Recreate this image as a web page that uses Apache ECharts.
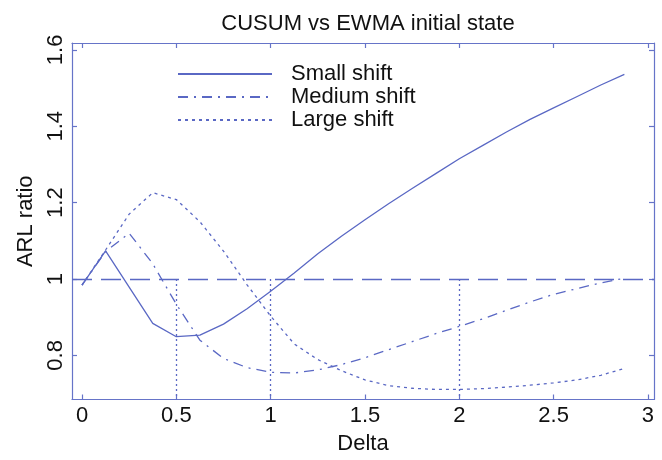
<!DOCTYPE html>
<html>
<head>
<meta charset="utf-8">
<title>CUSUM vs EWMA initial state</title>
<script src="https://cdn.jsdelivr.net/npm/echarts@6/dist/echarts.min.js"></script>
<style>
  html, body { margin: 0; padding: 0; background: #ffffff; }
  #chart { width: 662px; height: 460px; }
</style>
</head>
<body>
<div id="chart"></div>
<script>
// Shift sizes (Delta) at which the ARL ratio was evaluated
const delta = [0, 0.125, 0.25, 0.375, 0.5, 0.625, 0.75, 0.875, 1.0, 1.125, 1.25, 1.375,
               1.5, 1.625, 1.75, 1.875, 2.0, 2.125, 2.25, 2.375, 2.5, 2.625, 2.75, 2.875];

// ARL ratio CUSUM / EWMA for each design
const smallShift = [0.984, 1.074, 0.979, 0.884, 0.849, 0.853, 0.882, 0.922, 0.968, 1.016, 1.066, 1.112,
                    1.155, 1.197, 1.237, 1.276, 1.315, 1.350, 1.385, 1.418, 1.448, 1.478, 1.508, 1.536];
const mediumShift = [0.984, 1.072, 1.120, 1.040, 0.934, 0.840, 0.792, 0.768, 0.756, 0.754, 0.762, 0.776,
                     0.794, 0.815, 0.836, 0.857, 0.876, 0.896, 0.918, 0.940, 0.960, 0.975, 0.990, 1.002];
const largeShift = [0.984, 1.076, 1.170, 1.226, 1.208, 1.150, 1.073, 0.985, 0.903, 0.830, 0.789, 0.760,
                    0.736, 0.721, 0.714, 0.711, 0.711, 0.713, 0.717, 0.722, 0.728, 0.736, 0.748, 0.766];

const seriesNames = ['Small shift', 'Medium shift', 'Large shift'];

// Axis ranges and tick positions
const xRange = [-0.053, 3.032];
const yRange = [0.6846, 1.618];
const xTicks = [0, 0.5, 1, 1.5, 2, 2.5, 3];
const yTicks = [0.8, 1, 1.2, 1.4, 1.6];

// Reference level and the shifts marked with vertical guides
const refLevel = 1;
const guideDeltas = [0.5, 1, 2];

const lineColor = '#5a68c4';
const axisColor = '#6674c8';
const textColor = '#111111';
const fontFamily = 'Arial, "Liberation Sans", Helvetica, sans-serif';

function pairs(ys) { return delta.map((d, i) => [d, ys[i]]); }

function xAxisDef(pos) {
  return {
    type: 'value', position: pos, min: xRange[0], max: xRange[1],
    axisLine: { show: true, onZero: false, lineStyle: { color: axisColor, width: 1.2 } },
    axisTick: { show: true, inside: true, length: 5, customValues: xTicks,
                lineStyle: { color: axisColor, width: 1.2 } },
    axisLabel: pos === 'bottom'
      ? { show: true, customValues: xTicks, color: textColor, fontSize: 22, fontFamily: fontFamily, margin: 5 }
      : { show: false },
    splitLine: { show: false },
    name: pos === 'bottom' ? 'Delta' : '',
    nameLocation: 'middle', nameGap: 33,
    nameTextStyle: { color: textColor, fontSize: 22, fontFamily: fontFamily }
  };
}

function yAxisDef(pos) {
  return {
    type: 'value', position: pos, min: yRange[0], max: yRange[1],
    axisLine: { show: true, onZero: false, lineStyle: { color: axisColor, width: 1.2 } },
    axisTick: { show: true, inside: true, length: 5, customValues: yTicks,
                lineStyle: { color: axisColor, width: 1.2 } },
    axisLabel: pos === 'left'
      ? { show: true, customValues: yTicks, rotate: 90, color: textColor, fontSize: 22,
          fontFamily: fontFamily, margin: 5 }
      : { show: false },
    splitLine: { show: false },
    name: pos === 'left' ? 'ARL ratio' : '',
    nameLocation: 'middle', nameGap: 30, nameRotate: 90,
    nameTextStyle: { color: textColor, fontSize: 22, fontFamily: fontFamily }
  };
}

const guideLines = guideDeltas.map(d => [
  { coord: [d, refLevel] },
  { coord: [d, yRange[0]] }
]);

const chart = echarts.init(document.getElementById('chart'), null, { renderer: 'canvas' });

chart.setOption({
  animation: false,
  backgroundColor: '#ffffff',
  title: {
    text: 'CUSUM vs EWMA initial state',
    left: 363, top: 8, textAlign: 'center',
    textStyle: { color: textColor, fontSize: 22, fontWeight: 'normal', fontFamily: fontFamily }
  },
  legend: {
    orient: 'vertical', left: 177, top: 63, padding: 0,
    itemWidth: 94, itemHeight: 12, itemGap: 1,
    data: seriesNames,
    itemStyle: { opacity: 0 },
    textStyle: { color: textColor, fontSize: 22, fontFamily: fontFamily, lineHeight: 22,
                 padding: [0, 0, 0, 14] },
    inactiveColor: '#cccccc'
  },
  grid: { left: 72, right: 8, top: 43, bottom: 60.5, containLabel: false },
  xAxis: [xAxisDef('bottom'), xAxisDef('top')],
  yAxis: [yAxisDef('left'), yAxisDef('right')],
  series: [
    {
      name: seriesNames[0], type: 'line', data: pairs(smallShift),
      showSymbol: false, symbol: 'none', silent: true,
      lineStyle: { color: lineColor, width: 1.3, type: 'solid' },
      itemStyle: { color: lineColor },
      markLine: {
        silent: true, symbol: 'none', label: { show: false },
        lineStyle: { color: lineColor, width: 1.3, type: [20, 9] },
        data: [{ yAxis: refLevel }]
      }
    },
    {
      name: seriesNames[1], type: 'line', data: pairs(mediumShift),
      showSymbol: false, symbol: 'none', silent: true,
      lineStyle: { color: lineColor, width: 1.3, type: [10, 6, 2, 6] },
      itemStyle: { color: lineColor },
      markLine: {
        silent: true, symbol: 'none', label: { show: false },
        lineStyle: { color: lineColor, width: 1.3, type: [2, 3] },
        data: guideLines
      }
    },
    {
      name: seriesNames[2], type: 'line', data: pairs(largeShift),
      showSymbol: false, symbol: 'none', silent: true,
      lineStyle: { color: lineColor, width: 1.3, type: [3, 4] },
      itemStyle: { color: lineColor }
    }
  ]
});
</script>
</body>
</html>
